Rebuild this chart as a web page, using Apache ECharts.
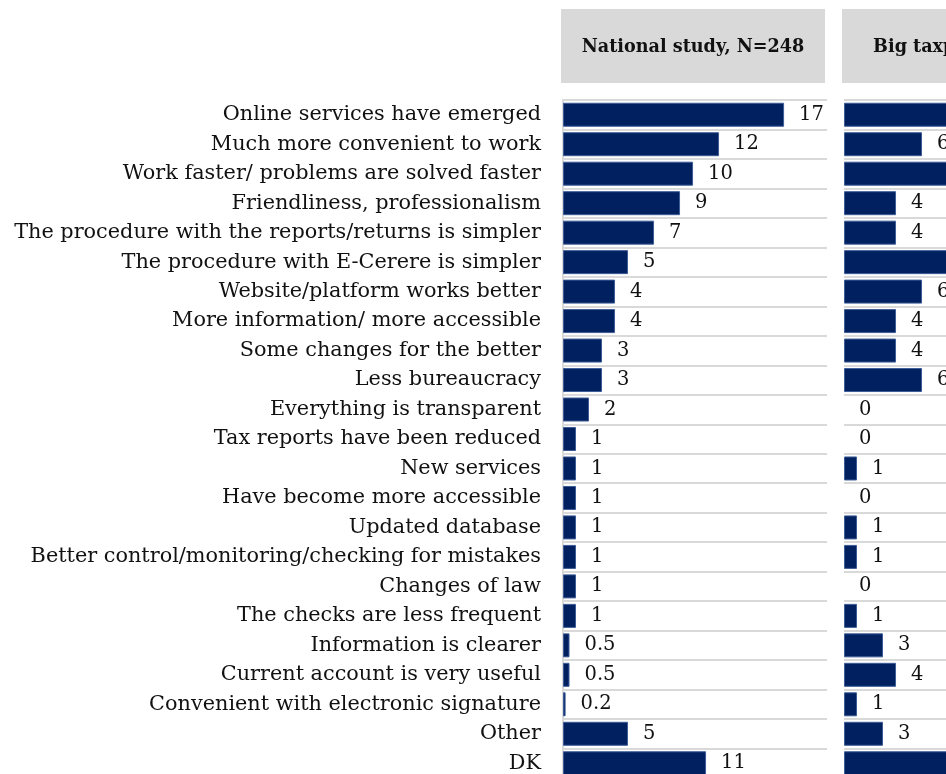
<!DOCTYPE html>
<html>
<head>
<meta charset="utf-8">
<script src="https://cdn.jsdelivr.net/npm/echarts@6/dist/echarts.min.js"></script>
<style>
  html, body { margin: 0; padding: 0; background: #ffffff; overflow: hidden; width: 946px; height: 774px; }
  #chart { width: 1240px; height: 820px; }
</style>
</head>
<body>
<div id="chart"></div>
<script>
// Reasons why work with the tax service became better (%)
const categories = [
  'Online services have emerged',
  'Much more convenient to work',
  'Work faster/ problems are solved faster',
  'Friendliness, professionalism',
  'The procedure with the reports/returns is simpler',
  'The procedure with E-Cerere is simpler',
  'Website/platform works better',
  'More information/ more accessible',
  'Some changes for the better',
  'Less bureaucracy',
  'Everything is transparent',
  'Tax reports have been reduced',
  'New services',
  'Have become more accessible',
  'Updated database',
  'Better control/monitoring/checking for mistakes',
  'Changes of law',
  'The checks are less frequent',
  'Information is clearer',
  'Current account is very useful',
  'Convenient with electronic signature',
  'Other',
  'DK'
];

const panelTitles = ['National study, N=248', 'Big taxpayers, N=50'];

const nationalStudy = [17, 12, 10, 9, 7, 5, 4, 4, 3, 3, 2, 1, 1, 1, 1, 1, 1, 1, 0.5, 0.5, 0.2, 5, 11];
const bigTaxpayers  = [10, 6, 9, 4, 4, 8, 6, 4, 4, 6, 0, 0, 1, 0, 1, 1, 0, 1, 3, 4, 1, 3, 12];

const panelData = [nationalStudy, bigTaxpayers];

const serifFont = '"DejaVu Serif", "Liberation Serif", serif';
const barColor = '#002060';
const rowLineColor = '#d9d9d9';

const panelLeft = [563, 844];
const panelWidth = 264;
const gridTop = 100;
const gridHeight = 678;
const xMax = 20.3;

const grids = panelLeft.map(left => ({
  left: left, top: gridTop, width: panelWidth, height: gridHeight, containLabel: false
}));

const xAxes = panelLeft.map((_, i) => ({
  gridIndex: i, type: 'value', min: 0, max: xMax,
  show: false
}));

const yAxes = panelLeft.map((_, i) => ({
  gridIndex: i,
  type: 'category',
  data: categories,
  inverse: true,
  axisLine: { show: i === 0, lineStyle: { color: rowLineColor, width: 2 } },
  axisTick: { show: false },
  axisLabel: {
    show: i === 0,
    margin: 22,
    fontFamily: serifFont,
    fontSize: 20.8,
    color: '#111111'
  },
  splitLine: { show: true, lineStyle: { color: rowLineColor, width: 2 } }
}));

const series = panelData.map((values, i) => ({
  type: 'bar',
  xAxisIndex: i,
  yAxisIndex: i,
  // zero-valued rows get no outline so no sliver is drawn
  data: values.map(v => ({ value: v, itemStyle: { borderWidth: v === 0 ? 0 : 1 } })),
  barWidth: 24,
  itemStyle: { color: barColor, borderColor: '#3d5c96', borderWidth: 1 },
  label: {
    show: true,
    position: 'right',
    distance: 15,
    fontFamily: serifFont,
    fontSize: 19.5,
    color: '#111111',
    formatter: p => String(p.value)
  },
  animation: false
}));

// Grey header boxes above each panel
const graphic = [];
panelTitles.forEach((title, i) => {
  graphic.push({
    type: 'rect',
    shape: { x: panelLeft[i] - 2, y: 9, width: panelWidth, height: 74 },
    style: { fill: '#d9d9d9' },
    silent: true
  });
  graphic.push({
    type: 'text',
    x: panelLeft[i] - 2 + panelWidth / 2,
    y: 47,
    style: {
      text: title,
      fontFamily: serifFont,
      fontWeight: 'bold',
      fontSize: 17.6,
      fill: '#111111',
      align: 'center',
      verticalAlign: 'middle'
    },
    silent: true
  });
});

const chart = echarts.init(document.getElementById('chart'), null, { renderer: 'canvas' });
chart.setOption({
  backgroundColor: '#ffffff',
  animation: false,
  grid: grids,
  xAxis: xAxes,
  yAxis: yAxes,
  series: series,
  graphic: graphic
});
</script>
</body>
</html>
